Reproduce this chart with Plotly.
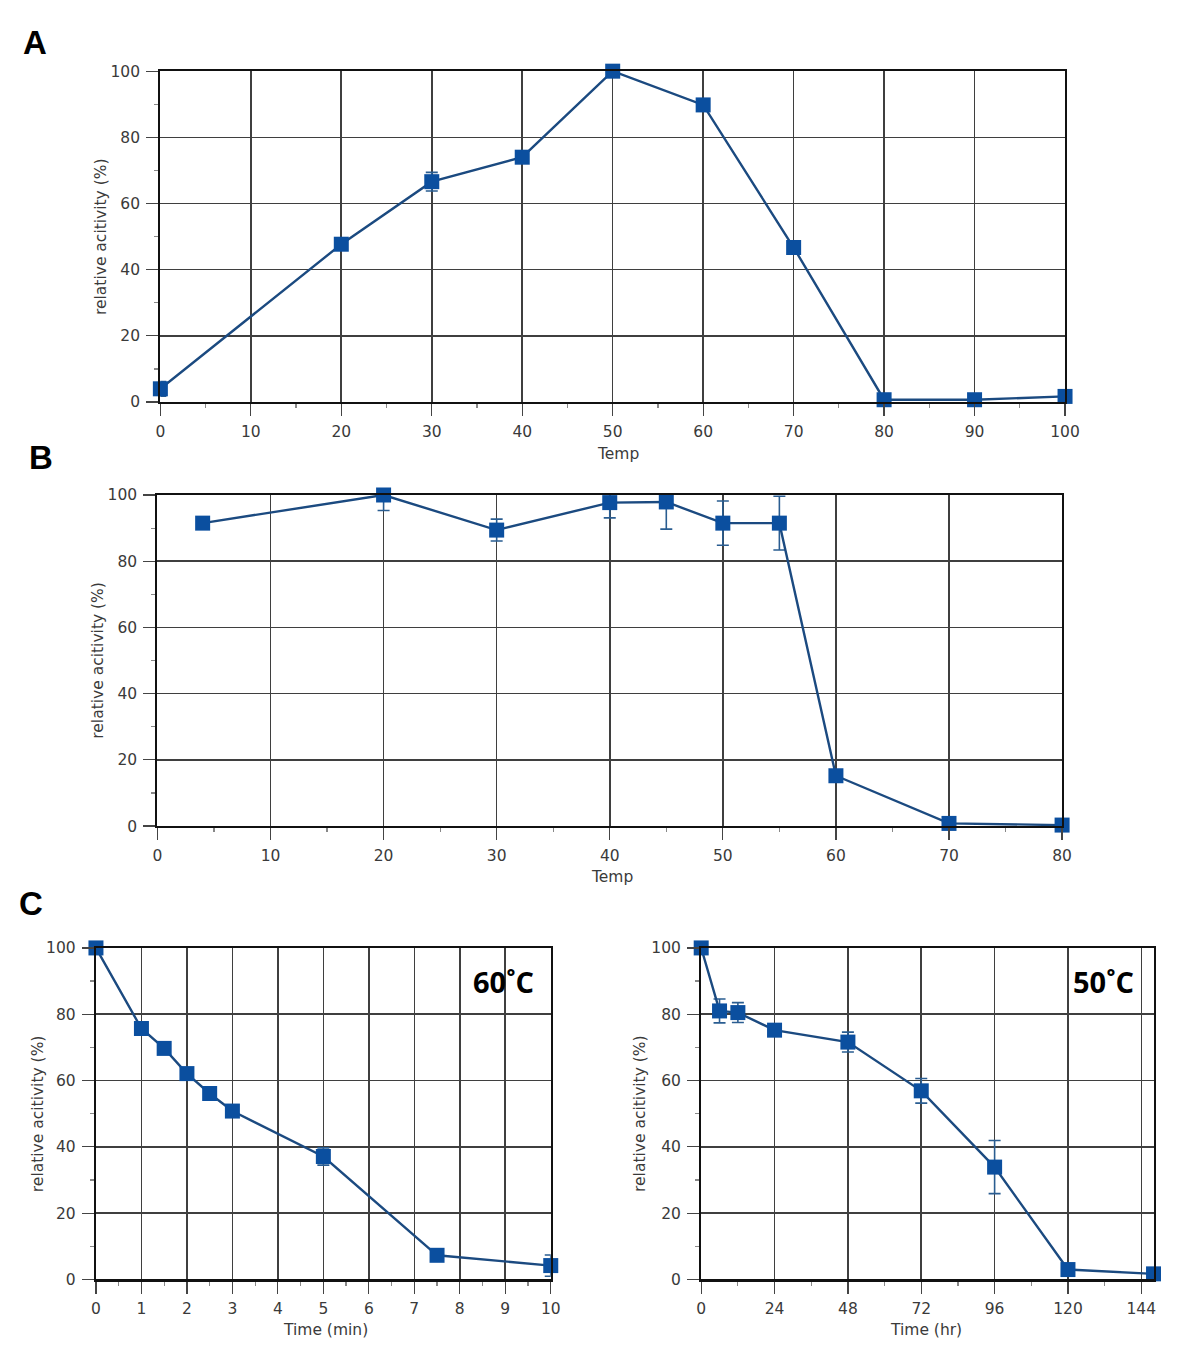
import plotly.graph_objects as go

# ---------------- data ----------------
temp_a = [0, 20, 30, 40, 50, 60, 70, 80, 90, 100]
act_a = [4.0, 47.7, 66.6, 74.0, 100, 89.8, 46.7, 0.7, 0.7, 1.7]
err_a = [2.2, 1.5, 2.8, 1.2, 0.8, 1.5, 1.8, 0.5, 0.5, 0.8]

temp_b = [4, 20, 30, 40, 45, 50, 55, 60, 70, 80]
act_b = [91.5, 100, 89.4, 97.7, 97.9, 91.5, 91.5, 15.2, 0.8, 0.3]
err_b = [1.5, 4.7, 3.3, 4.6, 8.2, 6.7, 8.1, 1.0, 0.5, 0.3]

time_min = [0, 1, 1.5, 2, 2.5, 3, 5, 7.5, 10]
act_60 = [100, 75.7, 69.7, 62.1, 56.1, 50.8, 37.1, 7.3, 4.2]
err_60 = [1.0, 1.5, 1.2, 1.5, 1.5, 1.5, 2.6, 1.5, 3.2]

time_hr = [0, 6, 12, 24, 48, 72, 96, 120, 148]
act_50 = [100, 81.0, 80.5, 75.2, 71.6, 56.9, 33.9, 3.0, 1.7]
err_50 = [0.5, 3.6, 3.0, 1.5, 3.0, 3.7, 8.0, 1.0, 0.5]

y_title = "relative acitivity (%)"
panel_labels = ["A", "B", "C"]
temp_labels = ["60˚C", "50˚C"]

# ---------------- layout helpers ----------------
W, H = 1200, 1363

def px_x(p):
    return p / W

def px_y(p):
    return 1 - p / H

LINE_C = "#1b4a80"
MARK_C = "#0b4f9f"
ERR_C = "#2a5d91"
GRID_C = "#3f3f3f"
TXT_C = "#3a3a3a"
FONT = "DejaVu Sans"

fig = go.Figure()

panels = [
    ("A", temp_a, act_a, err_a, "", (158, 1078), (63, 398.3), [0, 100], 10, 5),
    ("B", temp_b, act_b, err_b, "2", (155, 1075), (492.5, 828), [0, 80], 10, 5),
    ("C1", time_min, act_60, err_60, "3", (92.5, 555), (951.5, 1287.5), [0, 10], 1, 0.5),
    ("C2", time_hr, act_50, err_50, "4", (708, 1168), (951.5, 1287.5), [0, 148], 24, 12),
]

for name, xs, ys, es, aid, (x0, x1), (y0, y1), xr, xd, xm in panels:
    fig.add_trace(go.Scatter(
        x=xs, y=ys, mode="lines+markers",
        line=dict(color=LINE_C, width=2.4),
        marker=dict(symbol="square", size=15, color=MARK_C),
        error_y=dict(type="data", array=es, visible=True, color=ERR_C,
                     thickness=1.6, width=6),
        cliponaxis=False, showlegend=False, hoverinfo="skip",
        xaxis="x" + aid, yaxis="y" + aid,
    ))
    axis_common = dict(
        showline=True, mirror=True, linecolor="#111", linewidth=2.2,
        showgrid=True, gridcolor=GRID_C, gridwidth=1.6, zeroline=False,
        ticks="outside", ticklen=12, tickwidth=1.2, tickcolor="#444",
        tickfont=dict(family=FONT, size=15.5, color=TXT_C),
        fixedrange=True,
    )
    xa = dict(axis_common, domain=[px_x(x0), px_x(x1)], range=xr,
              tick0=0, dtick=xd, anchor="y" + aid, ticklabelstandoff=2,
              minor=dict(dtick=xm, tick0=0, ticks="outside", ticklen=4,
                         tickcolor="#888", showgrid=False))
    ya = dict(axis_common, domain=[px_y(y1), px_y(y0)], range=[0, 100],
              tick0=0, dtick=20, anchor="x" + aid, ticklabelstandoff=3,
              minor=dict(dtick=10, tick0=0, ticks="outside", ticklen=4,
                         tickcolor="#888", showgrid=False))
    fig.update_layout(**{"xaxis" + aid: xa, "yaxis" + aid: ya})

annotations = []
for cx, cy in [(97, 230.7), (95, 660), (33, 1119.5), (645, 1119.5)]:
    annotations.append(dict(text=y_title, x=px_x(cx), y=px_y(cy), xref="paper", yref="paper",
                            textangle=-90, showarrow=False, xanchor="center", yanchor="middle",
                            font=dict(family=FONT, size=15.5, color=TXT_C)))
for txt, cx, cy in [("Temp", 623, 451), ("Temp", 617, 880),
                    ("Time (min)", 326, 1339), ("Time (hr)", 937, 1339)]:
    annotations.append(dict(text=txt, x=px_x(cx), y=px_y(cy), xref="paper", yref="paper",
                            showarrow=False, xanchor="center", yanchor="middle",
                            font=dict(family=FONT, size=15.5, color=TXT_C)))
for txt, cx, cy in zip(panel_labels, [31, 37, 26], [34, 454, 906]):
    annotations.append(dict(text="<b>" + txt + "</b>", x=px_x(cx), y=px_y(cy), xref="paper",
                            yref="paper", showarrow=False, xanchor="center", yanchor="middle",
                            font=dict(family="Liberation Sans", size=33, color="#000")))
for txt, cx, cy in zip(temp_labels, [507, 1117], [986, 986]):
    annotations.append(dict(text="<b>" + txt + "</b>", x=px_x(cx), y=px_y(cy), xref="paper",
                            yref="paper", showarrow=False, xanchor="center", yanchor="middle",
                            font=dict(family="Open Sans", size=29, color="#000")))

fig.update_layout(
    autosize=True,
    margin=dict(l=0, r=0, t=0, b=0),
    paper_bgcolor="white", plot_bgcolor="white",
    annotations=annotations,
    hovermode=False,
)

fig.write_html(
    "out.html",
    default_width="100vw",
    default_height="100vh",
    config={"displayModeBar": False, "staticPlot": True, "responsive": True},
    post_script=(
        "document.documentElement.style.margin='0';"
        "document.documentElement.style.overflow='hidden';"
        "document.body.style.margin='0';"
        "document.body.style.overflow='hidden';"
        "var gd=document.getElementById('{plot_id}');"
        "gd.style.position='absolute';gd.style.left='0';gd.style.top='0';"
        "Plotly.Plots.resize(gd);"
    ),
)
